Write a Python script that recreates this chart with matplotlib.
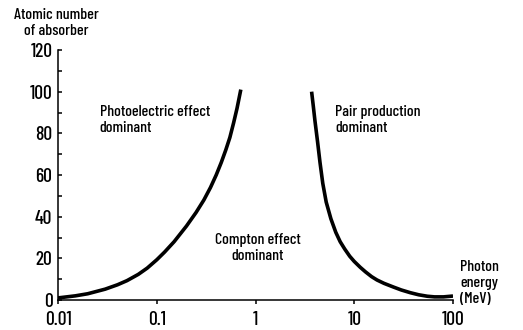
import matplotlib
matplotlib.use("Agg")
import matplotlib.pyplot as plt
from matplotlib.ticker import FixedLocator, NullLocator

plt.rcParams['font.family'] = ['Barlow Condensed', 'Roboto Condensed',
                               'Archivo Narrow', 'DejaVu Sans']

# Boundary where photoelectric and Compton interactions are equally likely
photo_energy = [0.01, 0.015, 0.02, 0.03, 0.04, 0.05, 0.065, 0.08, 0.1, 0.12,
                0.15, 0.2, 0.25, 0.3, 0.35, 0.4, 0.45, 0.5, 0.55, 0.6, 0.65,
                0.71]
photo_z = [1.0, 2.0, 3.0, 5.2, 7.3, 9.3, 12.3, 15.3, 19.3, 23, 28, 35.5, 42,
           48, 54, 60, 66, 72, 78, 85, 92, 101]

# Boundary where Compton scattering and pair production are equally likely
pair_energy = [3.7, 3.85, 4.0, 4.25, 4.5, 4.8, 5.2, 5.8, 6.5, 7.2, 8, 9, 10,
               11.5, 13, 15, 17, 20, 25, 30, 37, 45, 55, 65, 80, 100]
pair_z = [100, 93, 86, 76, 66, 56, 47, 39, 32.5, 28, 24.5, 21, 18.5, 15.7,
          13.5, 11.2, 9.6, 8, 6.2, 4.8, 3.5, 2.5, 1.8, 1.5, 1.5, 1.9]

x_ticks = [0.01, 0.1, 1, 10, 100]
x_tick_labels = ['0.01', '0.1', '1', '10', '100']
y_ticks = [0, 20, 40, 60, 80, 100, 120]
y_minor_ticks = [10, 30, 50, 70, 90, 110]

fig = plt.figure(figsize=(5.23, 3.3), dpi=100)
ax = fig.add_axes([58 / 523, 30 / 330, 395 / 523, 250 / 330])

for energy, z in ((photo_energy, photo_z), (pair_energy, pair_z)):
    ax.plot(energy, z, color='black', lw=2.6, solid_capstyle='butt',
            solid_joinstyle='round')

ax.set_xscale('log')
ax.set_xlim(0.01, 100)
ax.set_ylim(0, 120)

ax.xaxis.set_major_locator(FixedLocator(x_ticks))
ax.xaxis.set_minor_locator(NullLocator())
ax.set_xticklabels(x_tick_labels)
ax.yaxis.set_major_locator(FixedLocator(y_ticks))
ax.yaxis.set_minor_locator(FixedLocator(y_minor_ticks))

for side in ('top', 'right'):
    ax.spines[side].set_visible(False)
for side in ('left', 'bottom'):
    ax.spines[side].set_linewidth(1.1)

ax.tick_params(axis='x', which='major', direction='out', length=3, width=1.1,
               pad=5, labelsize=14)
ax.tick_params(axis='y', which='both', direction='in', length=3, width=1.1,
               pad=4, labelsize=14)
for lab in ax.get_xticklabels() + ax.get_yticklabels():
    lab.set_fontweight('medium')

text_kw = dict(fontsize=11.5, color='black', linespacing=1.15,
               fontweight='medium')

fig.text(56 / 523, 1 - 23 / 330, 'Atomic number\nof absorber', ha='center',
         va='center', **text_kw)
fig.text(460 / 523, 1 - 283 / 330, 'Photon\nenergy\n(MeV)', ha='left',
         va='center', **text_kw)

ax.text(0.0265, 93.5, 'Photoelectric effect\ndominant', ha='left', va='top',
        **text_kw)
ax.text(1.05, 32, 'Compton effect\ndominant', ha='center', va='top',
        **text_kw)
ax.text(6.4, 93.5, 'Pair production\ndominant', ha='left', va='top', **text_kw)

fig.savefig('out.png', dpi=100)
